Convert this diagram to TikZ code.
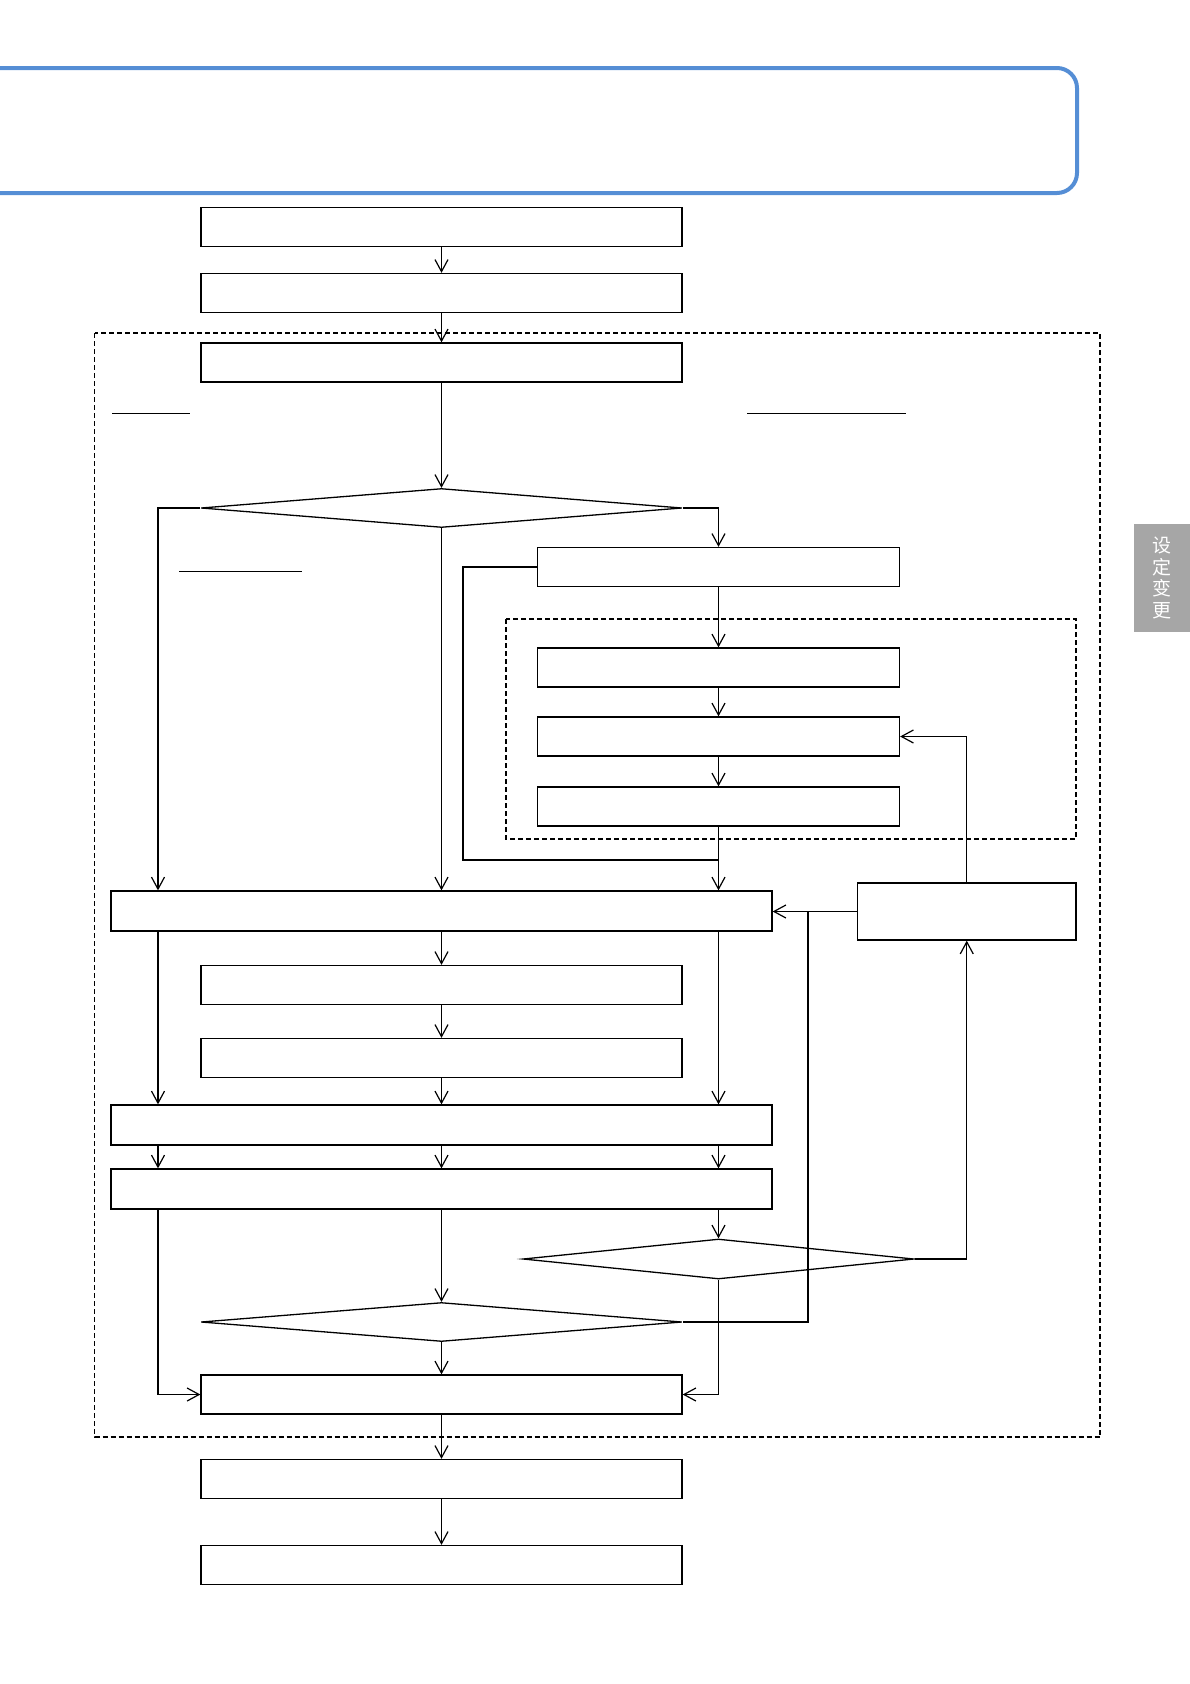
\documentclass[tikz,border=0pt]{standalone}
\usepackage{fontspec}
\newfontfamily\cjk{Noto Sans CJK SC}
\usetikzlibrary{arrows.meta,shapes.geometric}
\definecolor{hdrblue}{RGB}{85,142,213}
\definecolor{tabgray}{RGB}{166,166,166}
\begin{document}
\begin{tikzpicture}[x=1pt,y=-1pt,
  bx/.style={draw,line width=1.3pt,minimum height=39pt,inner sep=0pt,fill=white},
  dm/.style={draw,diamond,line width=1.3pt,inner sep=0pt,minimum height=39pt},
  arr/.style={line width=1.2pt,-{Straight Barb[length=12pt,width=13pt]}},
  ln/.style={line width=1.2pt},
  dbox/.style={dashed,line width=1.2pt,dash pattern=on 5pt off 3pt}]
\useasboundingbox (0,0) rectangle (1190,1684);
\begin{scope}
\clip (0,0) rectangle (1190,1684);
\draw[hdrblue,line width=4pt,rounded corners=20pt] (-40,68) rectangle (1077,193);
\end{scope}
% dashed groups
\draw[dbox] (94.5,333) rectangle (1100,1437);
\draw[dbox] (506,619) rectangle (1076,839);
% side tab
\fill[tabgray] (1134,524) rectangle (1190,632);
\node[text=white,font=\cjk\fontsize{19pt}{21.5pt}\selectfont,align=center,inner sep=0pt] (tab) at (1162,578) {设\\定\\变\\更};
% guide coordinates
\coordinate (xl) at (158,0);
\coordinate (xr) at (718.5,0);
\coordinate (xf) at (463,0);
\coordinate (xj) at (808,0);
\coordinate (yloop) at (0,860);
% nodes
\node[bx,minimum width=481pt] (A) at (441.5,227) {};
\node[bx,minimum width=481pt] (B) at (441.5,293) {};
\node[bx,minimum width=481pt] (C) at (441.5,362.5) {};
\node[dm,minimum width=481pt] (D1) at (441.5,508) {};
\node[bx,minimum width=362pt] (F) at (718.5,567) {};
\node[bx,minimum width=362pt] (G1) at (718.5,667.5) {};
\node[bx,minimum width=362pt] (G2) at (718.5,736.5) {};
\node[bx,minimum width=362pt] (G3) at (718.5,806.5) {};
\node[bx,minimum width=661pt,minimum height=40pt] (E) at (441.5,911) {};
\node[bx,minimum width=218.5pt,minimum height=57pt] (H) at (966.75,911.5) {};
\node[bx,minimum width=481pt] (I1) at (441.5,985) {};
\node[bx,minimum width=481pt] (I2) at (441.5,1058) {};
\node[bx,minimum width=661pt,minimum height=40pt] (J) at (441.5,1125) {};
\node[bx,minimum width=661pt,minimum height=40pt] (K) at (441.5,1189) {};
\node[dm,minimum width=391pt,minimum height=40pt] (D2) at (718.5,1259) {};
\node[dm,minimum width=481pt] (D3) at (441.5,1322) {};
\node[bx,minimum width=481pt] (L) at (441.5,1394.5) {};
\node[bx,minimum width=481pt] (M) at (441.5,1479) {};
\node[bx,minimum width=481pt] (N) at (441.5,1565) {};
% underlines
\draw[line width=1pt] (112,413.5) -- (190,413.5);
\draw[line width=1pt] (747,413.5) -- (906,413.5);
\draw[line width=1pt] (179,571.5) -- (302,571.5);
% connectors
\draw[arr] (A.south) -- (B.north);
\draw[arr] (B.south) -- (C.north);
\draw[arr] (C.south) -- (D1.north);
\draw[arr] (D1.west) -| (E.north -| xl);
\draw[arr] (D1.south) -- (E.north);
\draw[arr] (D1.east) -| (F.north);
\draw[arr] (F.south) -- (G1.north);
\draw[arr] (G1.south) -- (G2.north);
\draw[arr] (G2.south) -- (G3.north);
\draw[arr] (G3.south) -- (E.north -| G3.south);
\draw[ln] (F.west) -| (xf |- yloop) -- (G3.south |- yloop);
\draw[arr] (H.west) -- (H.west -| E.east);
\draw[ln] (H.west -| xj) |- (D3.east);
\draw[arr] (H.north) |- (G2.east);
\draw[arr] (E.south) -- (I1.north);
\draw[arr] (I1.south) -- (I2.north);
\draw[arr] (I2.south) -- (J.north);
\draw[arr] (E.south -| xl) -- (J.north -| xl);
\draw[arr] (E.south -| xr) -- (J.north -| xr);
\draw[arr] (J.south -| xl) -- (K.north -| xl);
\draw[arr] (J.south) -- (K.north);
\draw[arr] (J.south -| xr) -- (K.north -| xr);
\draw[arr] (K.south -| xl) |- (L.west);
\draw[arr] (K.south) -- (D3.north);
\draw[arr] (K.south -| xr) -- (D2.north);
\draw[arr] (D2.east) -| (H.south);
\draw[arr] (D2.south) |- (L.east);
\draw[arr] (D3.south) -- (L.north);
\draw[arr] (L.south) -- (M.north);
\draw[arr] (M.south) -- (N.north);
\end{tikzpicture}
\end{document}
